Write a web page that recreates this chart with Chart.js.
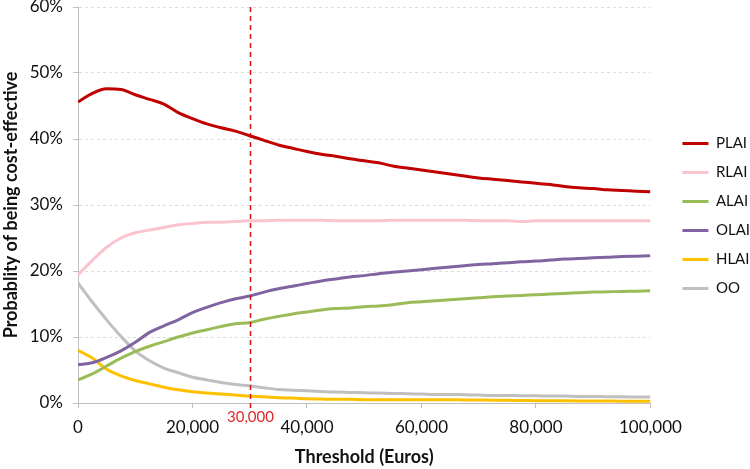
<!DOCTYPE html>
<html>
<head>
<meta charset="utf-8">
<script src="https://cdn.jsdelivr.net/npm/chart.js@4.4.0/dist/chart.umd.min.js"></script>
<style>
  body { margin: 0; background: #fff; }
</style>
</head>
<body>
<canvas id="ceacChart" width="750" height="469"></canvas>
<script>
/*
* Curva de aceptabilidad coste-efectividad (CEAC)
* probabilidad de ser coste-efectivo segun el umbral
*/

// umbral en euros, cada 2.500
const thresholds = [
  0, 2500, 5000, 7500, 10000, 12500, 15000, 17500, 20000, 22500,
  25000, 27500, 30000, 32500, 35000, 37500, 40000, 42500, 45000, 47500,
  50000, 52500, 55000, 57500, 60000, 62500, 65000, 67500, 70000, 72500,
  75000, 77500, 80000, 82500, 85000, 87500, 90000, 92500, 95000, 97500, 100000
];

// probabilidad (%) por alternativa
const plai = [
  45.6, 46.9, 47.6, 47.5, 46.7, 46.0, 45.3, 44.0, 43.1, 42.3,
  41.7, 41.2, 40.5, 39.8, 39.1, 38.6, 38.1, 37.7, 37.4, 37.0,
  36.7, 36.4, 35.9, 35.6, 35.3, 35.0, 34.7, 34.4, 34.1, 33.9,
  33.7, 33.5, 33.3, 33.1, 32.8, 32.6, 32.5, 32.3, 32.2, 32.1, 32.0
];
const rlai = [
  19.4, 21.6, 23.6, 25.0, 25.8, 26.2, 26.6, 27.0, 27.2, 27.4,
  27.4, 27.5, 27.6, 27.6, 27.7, 27.7, 27.7, 27.7, 27.6, 27.6,
  27.6, 27.6, 27.7, 27.7, 27.7, 27.7, 27.7, 27.7, 27.6, 27.6,
  27.6, 27.5, 27.6, 27.6, 27.6, 27.6, 27.6, 27.6, 27.6, 27.6, 27.6
];
const alai = [
  3.5, 4.4, 5.6, 6.8, 7.8, 8.6, 9.3, 10.0, 10.6, 11.1,
  11.6, 12.0, 12.2, 12.7, 13.1, 13.5, 13.8, 14.1, 14.3, 14.4,
  14.6, 14.7, 14.9, 15.2, 15.35, 15.5, 15.65, 15.8, 15.95, 16.1,
  16.2, 16.3, 16.4, 16.5, 16.6, 16.7, 16.8, 16.85, 16.9, 16.95, 17.0
];
const olai = [
  5.8, 6.1, 6.9, 7.9, 9.2, 10.7, 11.7, 12.6, 13.7, 14.5,
  15.2, 15.8, 16.2, 16.8, 17.3, 17.7, 18.1, 18.5, 18.8, 19.1,
  19.3, 19.6, 19.8, 20.0, 20.2, 20.4, 20.6, 20.8, 21.0, 21.1,
  21.25, 21.4, 21.5, 21.65, 21.8, 21.9, 22.0, 22.1, 22.2, 22.25, 22.3
];
const hlai = [
  8.0, 6.8, 5.1, 4.1, 3.4, 2.9, 2.4, 2.0, 1.7, 1.5,
  1.35, 1.2, 1.05, 0.95, 0.8, 0.75, 0.65, 0.6, 0.55, 0.55,
  0.5, 0.5, 0.5, 0.5, 0.5, 0.5, 0.48, 0.47, 0.45, 0.43,
  0.4, 0.38, 0.35, 0.34, 0.33, 0.32, 0.3, 0.29, 0.28, 0.26, 0.25
];
const oo = [
  18.2, 15.3, 12.6, 10.1, 7.9, 6.4, 5.3, 4.6, 3.9, 3.5,
  3.1, 2.8, 2.6, 2.3, 2.05, 1.95, 1.85, 1.75, 1.65, 1.6,
  1.55, 1.5, 1.45, 1.4, 1.35, 1.3, 1.3, 1.25, 1.2, 1.15,
  1.15, 1.1, 1.1, 1.05, 1.05, 1.0, 1.0, 0.95, 0.95, 0.9, 0.9
];

const seriesNames = ['PLAI', 'RLAI', 'ALAI', 'OLAI', 'HLAI', 'OO'];
const seriesValues = [plai, rlai, alai, olai, hlai, oo];
const yTicks = [0, 10, 20, 30, 40, 50, 60];
const xTicks = [0, 20000, 40000, 60000, 80000, 100000];
const wtpThreshold = 30000;

const COLORS = {
  PLAI: '#C00000',
  RLAI: '#F9C4CE',
  ALAI: '#9BBB59',
  OLAI: '#8064A2',
  HLAI: '#FFC000',
  OO: '#BFBFBF'
};

const FONT = 'Lato, "Open Sans", sans-serif';

const datasets = seriesNames.map((name, i) => ({
  label: name,
  data: thresholds.map((t, j) => ({x: t, y: seriesValues[i][j]})),
  borderColor: COLORS[name],
  backgroundColor: COLORS[name],
  borderWidth: 3,
  pointRadius: 0,
  cubicInterpolationMode: 'monotone',
  fill: false
}));

// linea vertical discontinua en el umbral de 30.000
const thresholdLine = {
  id: 'thresholdLine',
  afterDatasetsDraw(chart) {
    const {ctx, chartArea, scales} = chart;
    const x = Math.round(scales.x.getPixelForValue(wtpThreshold)) + 0.5;
    ctx.save();
    ctx.strokeStyle = '#D81010';
    ctx.lineWidth = 1.5;
    ctx.setLineDash([5, 4]);
    ctx.beginPath();
    ctx.moveTo(x, chartArea.top);
    ctx.lineTo(x, chartArea.bottom + 5);
    ctx.stroke();
    ctx.setLineDash([]);
    ctx.fillStyle = '#E0282A';
    ctx.font = '15px ' + FONT;
    ctx.textAlign = 'center';
    ctx.textBaseline = 'middle';
    ctx.fillText(wtpThreshold.toLocaleString('en-US'), x, chartArea.bottom + 14);
    ctx.restore();
  }
};

// la leyenda queda un poco mas a la derecha y arriba, como en el original
const legendShift = {
  id: 'legendShift',
  afterLayout(chart) {
    const l = chart.legend;
    l.left += 18; l.right += 18;
    l.top -= 22; l.bottom -= 22;
  }
};

const config = {
  type: 'line',
  data: {datasets: datasets},
  plugins: [thresholdLine, legendShift],
  options: {
    responsive: false,
    animation: false,
    layout: {padding: {top: 7, right: 8, left: 0, bottom: 0}},
    scales: {
      x: {
        type: 'linear',
        min: 0,
        max: 100000,
        afterBuildTicks: s => { s.ticks = xTicks.map(v => ({value: v})); },
        afterFit: s => { s.height = 66; s.paddingLeft = 0; s.paddingRight = 0; },
        ticks: {
          color: '#111',
          font: {family: FONT, size: 17},
          padding: 9,
          maxRotation: 0,
          callback: v => v.toLocaleString('en-US')
        },
        grid: {drawOnChartArea: false, color: '#BFBFBF', tickLength: 5},
        border: {color: '#BFBFBF', width: 1},
        title: {
          display: true,
          text: 'Threshold (Euros)',
          color: '#111',
          font: {family: FONT, size: 18, weight: 'bold'},
          padding: {top: 0, bottom: 1}
        }
      },
      y: {
        min: 0,
        max: 60,
        afterBuildTicks: s => { s.ticks = yTicks.map(v => ({value: v})); },
        afterFit: s => { s.width = 78; s.paddingTop = 0; s.paddingBottom = 0; },
        ticks: {
          color: '#111',
          font: {family: FONT, size: 17},
          padding: 10,
          callback: v => v + '%'
        },
        grid: {color: '#DCDCDC', tickColor: '#BFBFBF', tickLength: 5, tickBorderDash: []},
        border: {color: '#BFBFBF', width: 1, dash: [3, 3]},
        title: {
          display: true,
          text: 'Probablity of being cost-effective',
          color: '#111',
          font: {family: FONT, size: 18, weight: 'bold'},
          padding: {top: 0, bottom: 0}
        }
      }
    },
    plugins: {
      legend: {
        position: 'right',
        align: 'center',
        labels: {
          usePointStyle: true,
          pointStyle: 'line',
          pointStyleWidth: 26,
          padding: 14,
          color: '#111',
          font: {family: FONT, size: 15}
        }
      },
      tooltip: {enabled: false}
    }
  }
};

const ceacChart = new Chart(
  document.getElementById('ceacChart'),
  config
);
</script>
</body>
</html>
